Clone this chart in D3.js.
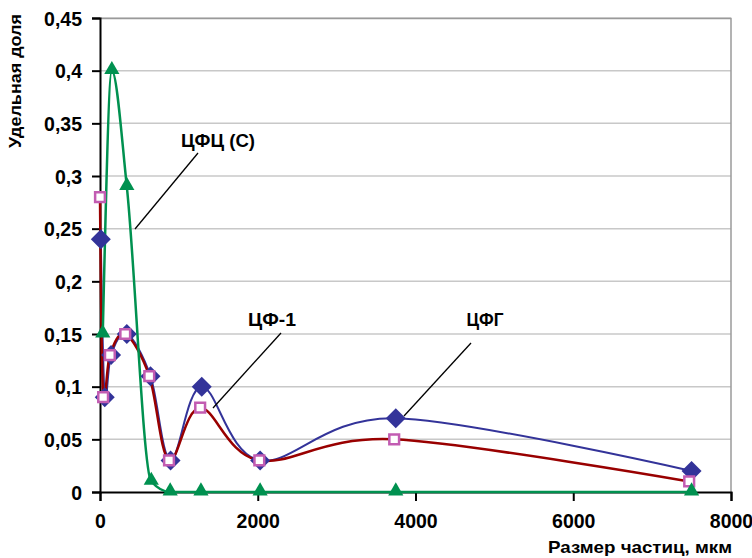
<!DOCTYPE html>
<html>
<head>
<meta charset="utf-8">
<script src="https://cdn.jsdelivr.net/npm/d3@7"></script>
<style>
body { margin: 0; background: #fff; }
text { font-family: "Liberation Sans", Arial, sans-serif; font-weight: bold; fill: #000; }
</style>
</head>
<body>
<div id="chart"></div>
<script>
var svgWidth = 752;
var svgHeight = 558;
var margin = {top: 18, right: 21, bottom: 66, left: 100};
var chartWidth = svgWidth - margin.left - margin.right;
var chartHeight = svgHeight - margin.top - margin.bottom;

// ЦФГ
var cfgX = [10, 60, 140, 340, 640, 895, 1290, 2030, 3750, 7500];
var cfgY = [0.24, 0.09, 0.13, 0.15, 0.11, 0.03, 0.10, 0.03, 0.07, 0.02];
// ЦФ-1
var cf1X = [0, 40, 125, 320, 625, 875, 1270, 2020, 3730, 7470];
var cf1Y = [0.28, 0.09, 0.13, 0.15, 0.11, 0.03, 0.08, 0.03, 0.05, 0.01];
// ЦФЦ (С)
var cfcX = [35, 150, 340, 650, 890, 1280, 2030, 3750, 7500];
var cfcY = [0.15, 0.40, 0.29, 0.01, 0, 0, 0, 0, 0];

var xTicks = [0, 2000, 4000, 6000, 8000];
var yTicks = [0, 0.05, 0.1, 0.15, 0.2, 0.25, 0.3, 0.35, 0.4, 0.45];
var yTickLabels = ["0", "0,05", "0,1", "0,15", "0,2", "0,25", "0,3", "0,35", "0,4", "0,45"];

var seriesNames = ["ЦФГ", "ЦФ-1", "ЦФЦ (С)"];
var xTitle = "Размер частиц, мкм";
var yTitle = "Удельная доля";

function zip(xs, ys) {
	return xs.map(function(x, i) { return {x: x, y: ys[i]}; });
}

var series = [
	{name: seriesNames[0], data: zip(cfgX, cfgY), line: "#333399", width: 2, marker: "diamond", curve: d3.curveCatmullRom.alpha(0)},
	{name: seriesNames[1], data: zip(cf1X, cf1Y), line: "#990000", width: 2.5, marker: "square", curve: d3.curveCatmullRom.alpha(0)},
	{name: seriesNames[2], data: zip(cfcX, cfcY), line: "#009150", width: 2.5, marker: "triangle", curve: d3.curveMonotoneX}
];

var svg = d3.select("#chart").append("svg")
.attr("width", svgWidth)
.attr("height", svgHeight);

var chartGroup = svg.append("g")
.attr("transform", `translate(${margin.left}, ${margin.top})`);

var xScale = d3.scaleLinear().domain([0, 8000]).range([0, chartWidth]);
var yScale = d3.scaleLinear().domain([0, 0.45]).range([chartHeight, 0]);

// gridlines
chartGroup.append("g")
.selectAll("line")
.data(yTicks.slice(1))
.enter()
.append("line")
.attr("x1", 0)
.attr("x2", chartWidth)
.attr("y1", d => yScale(d))
.attr("y2", d => yScale(d))
.attr("stroke", "#c8c8c8")
.attr("stroke-width", 1.5);

// frame top/right
chartGroup.append("path")
.attr("d", `M0,0.5H${chartWidth}V${chartHeight}`)
.attr("fill", "none")
.attr("stroke", "#9a9a9a")
.attr("stroke-width", 1.5);

var xAxis = d3.axisBottom(xScale).tickValues(xTicks).tickSize(9).tickPadding(13).tickFormat(d3.format("d"));
var yAxis = d3.axisLeft(yScale).tickValues(yTicks).tickSize(8).tickPadding(10)
.tickFormat(function(d, i) { return yTickLabels[i]; });

var gx = chartGroup.append("g")
.attr("transform", `translate(0, ${chartHeight})`)
.call(xAxis);
var gy = chartGroup.append("g")
.call(yAxis);

[gx, gy].forEach(function(g) {
	g.select(".domain").attr("stroke", "#000").attr("stroke-width", 2);
	g.selectAll(".tick line").attr("stroke", "#000").attr("stroke-width", 2);
	g.selectAll(".tick text")
	.attr("font-family", "Liberation Sans, Arial, sans-serif")
	.attr("font-weight", "bold")
	.attr("font-size", "19.5px")
	.attr("fill", "#000");
});
gy.selectAll(".tick text").attr("dy", "0.36em");

// lines + markers
var diamond = d3.symbol().type(d3.symbolSquare).size(200);
var square = d3.symbol().type(d3.symbolSquare).size(95);
var triangle = d3.symbol().type(d3.symbolTriangle).size(100);

series.forEach(function(s) {
	var line = d3.line()
	.x(d => xScale(d.x))
	.y(d => yScale(d.y))
	.curve(s.curve);
	chartGroup.append("path")
	.datum(s.data)
	.attr("d", line)
	.attr("fill", "none")
	.attr("stroke", s.line)
	.attr("stroke-width", s.width);
});

series.forEach(function(s) {
	var m = chartGroup.append("g")
	.selectAll("path")
	.data(s.data)
	.enter()
	.append("path");
	if (s.marker == "diamond") {
		m.attr("d", diamond)
		.attr("transform", d => `translate(${xScale(d.x)}, ${yScale(d.y)}) rotate(45)`)
		.attr("fill", "#333399");
	}
	else if (s.marker == "square") {
		m.attr("d", square)
		.attr("transform", d => `translate(${xScale(d.x)}, ${yScale(d.y)})`)
		.attr("fill", "#fff")
		.attr("stroke", "#c25cb2")
		.attr("stroke-width", 2.5);
	}
	else {
		m.attr("d", triangle)
		.attr("transform", d => `translate(${xScale(d.x)}, ${yScale(d.y) - 1})`)
		.attr("fill", "#009150");
	}
});

// callout labels (pixel layout inside the plot)
var callouts = [
	{text: seriesNames[2], tx: 118, ty: 129, w: 74, x1: 98, y1: 135, x2: 35, y2: 211},
	{text: seriesNames[1], tx: 172, ty: 308, w: 48, x1: 181, y1: 315, x2: 113, y2: 390},
	{text: seriesNames[0], tx: 385, ty: 308, w: 37, x1: 371, y1: 325, x2: 304, y2: 398}
];

callouts.forEach(function(c) {
	chartGroup.append("line")
	.attr("x1", c.x1).attr("y1", c.y1)
	.attr("x2", c.x2).attr("y2", c.y2)
	.attr("stroke", "#000")
	.attr("stroke-width", 1.3);
	chartGroup.append("text")
	.attr("x", c.tx)
	.attr("y", c.ty)
	.attr("text-anchor", "middle")
	.attr("font-size", "19px")
	.attr("textLength", c.w)
	.attr("lengthAdjust", "spacingAndGlyphs")
	.text(c.text);
});

// axis titles
svg.append("text")
.attr("x", 732)
.attr("y", 553)
.attr("text-anchor", "end")
.attr("font-size", "17px")
.attr("textLength", 184)
.attr("lengthAdjust", "spacingAndGlyphs")
.text(xTitle);

svg.append("text")
.attr("transform", "translate(21, 81) rotate(-90)")
.attr("text-anchor", "middle")
.attr("font-size", "16.5px")
.attr("textLength", 134)
.attr("lengthAdjust", "spacingAndGlyphs")
.text(yTitle);
</script>
</body>
</html>
